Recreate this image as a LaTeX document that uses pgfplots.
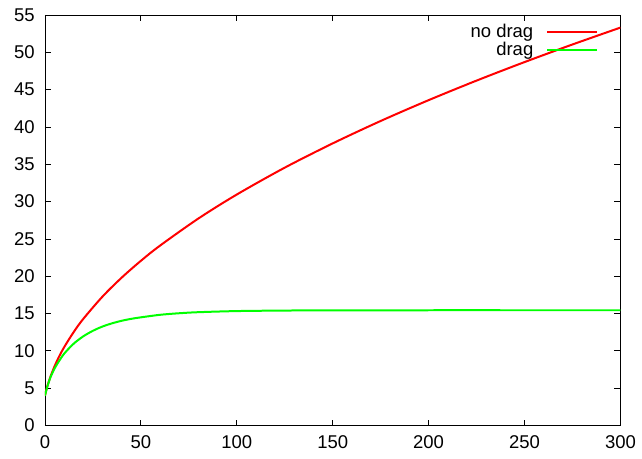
\documentclass[border=0pt]{standalone}
\usepackage{pgfplots}
\pgfplotsset{compat=1.18}
\usepackage{fontspec}
\setmainfont{Liberation Sans}

\begin{document}
\fontsize{18.5}{21}\selectfont
\begin{tikzpicture}
\begin{axis}[
  scale only axis, width=576pt, height=411pt,
  xmin=0, xmax=300, ymin=0, ymax=55,
  xtick={0,50,...,300}, ytick={0,5,...,55},
  tick align=inside, major tick length=6pt,
  axis line style={line width=0.9pt}, every tick/.style={line width=0.9pt, black},
  /pgf/number format/assume math mode=true,
  tick label style={font=\fontsize{18.5}{21}\selectfont},
  xticklabel style={yshift=-4pt}, yticklabel style={xshift=-4pt},
  legend style={at={(1,1)}, anchor=north east, xshift=-19pt, yshift=-5pt,
    draw=none, fill=none, font=\fontsize{18.5}{21}\selectfont, row sep=-2pt},
  legend cell align=right, legend plot pos=right,
  legend image code/.code={\path[draw=none, fill=none] (0pt,-1pt) rectangle (12pt,1pt);
    \draw[#1] (12pt,0pt) -- (62pt,0pt);},
]
\addplot[red, line width=2pt, smooth] coordinates {
(0,4.00)(1,5.06)(2,5.90)(3,6.64)(5,7.94)(7,9.06)(10,10.50)(15,12.54)(20,14.30)(30,17.28)(40,19.82)
(50,22.07)(60,24.11)(80,27.74)(100,30.95)(125,34.55)(150,37.80)(175,40.80)
(200,43.59)(225,46.21)(250,48.69)(275,51.05)(300,53.31)};
\addlegendentry{no drag}
\addplot[green, line width=2pt, smooth] coordinates {
(0,4.00)(1,5.00)(2,5.84)(3,6.55)(5,7.64)(7,8.50)(10,9.63)(15,10.98)(20,11.96)(25,12.70)
(30,13.27)(35,13.70)(40,14.04)(45,14.30)(50,14.50)(60,14.84)(70,15.05)(80,15.19)
(100,15.34)(125,15.41)(150,15.44)(200,15.45)(250,15.45)(300,15.45)};
\addlegendentry{drag}
\end{axis}
\path ([shift={(-45pt,-33pt)}]current axis.south west) rectangle ([shift={(21pt,15pt)}]current axis.north east);
\end{tikzpicture}
\end{document}
